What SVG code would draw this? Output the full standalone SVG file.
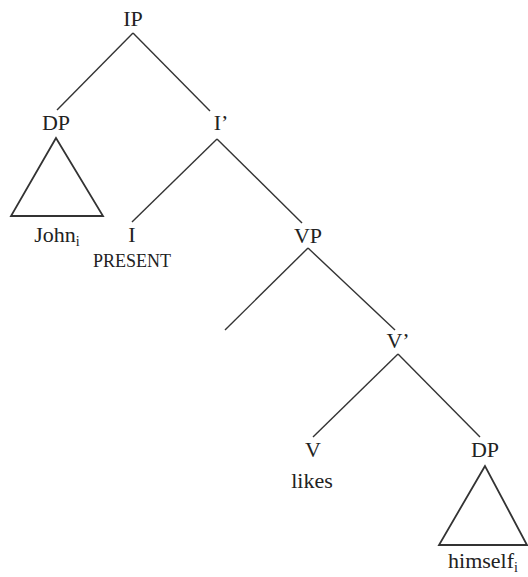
<svg xmlns="http://www.w3.org/2000/svg" width="528" height="577" viewBox="0 0 528 577">
<style>
text{font-family:"Liberation Serif","Times New Roman",serif;font-size:22px;fill:#222;text-anchor:middle}
.sm{font-size:18px}
.sub{font-size:14px}
line{stroke:#333;stroke-width:1.4}
polygon{fill:none;stroke:#333;stroke-width:1.8;stroke-linejoin:miter}
</style>
<rect width="528" height="577" fill="#fff"/>
<g id="connectors">
<line x1="133" y1="33" x2="57" y2="110"/>
<line x1="133" y1="33" x2="210" y2="111"/>
<line x1="217" y1="139" x2="132" y2="222"/>
<line x1="217" y1="139" x2="302" y2="223"/>
<line x1="308" y1="248" x2="225" y2="330"/>
<line x1="308" y1="248" x2="395" y2="330"/>
<line x1="398" y1="354" x2="313" y2="437"/>
<line x1="398" y1="354" x2="480" y2="437"/>
</g>
<g id="node-IP"><text x="133" y="26">IP</text></g>
<g id="node-DP1"><text x="56" y="130">DP</text>
<polygon points="56,138 11,216 103,216"/></g>
<g id="node-John"><text x="57" y="242">John<tspan class="sub" dy="4">i</tspan></text></g>
<g id="node-Ibar"><text x="221" y="130">I’</text></g>
<g id="node-I"><text x="132" y="242">I</text><text class="sm" x="132" y="267">PRESENT</text></g>
<g id="node-VP"><text x="308" y="243">VP</text></g>
<g id="node-Vbar"><text x="398" y="348">V’</text></g>
<g id="node-V"><text x="313" y="457">V</text><text x="312" y="488">likes</text></g>
<g id="node-DP2"><text x="485" y="457">DP</text>
<polygon points="485,466 439,545 527,545"/></g>
<g id="node-himself"><text x="483" y="568">himself<tspan class="sub" dy="4">i</tspan></text></g>
</svg>
